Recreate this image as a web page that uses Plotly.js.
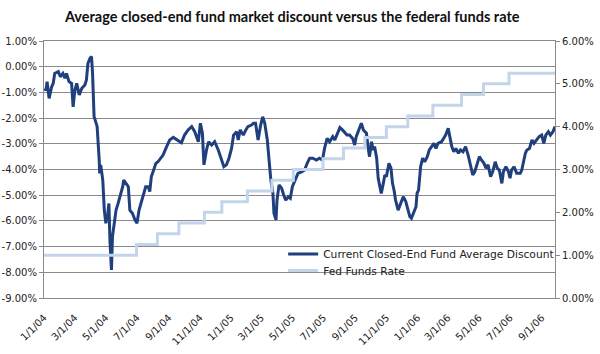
<!DOCTYPE html>
<html>
<head>
<meta charset="utf-8">
<script src="https://cdn.plot.ly/plotly-3.0.1.min.js"></script>
<style>html,body{margin:0;padding:0;background:#fff;}#chart{width:600px;height:354px;}</style>
</head>
<body>
<div id="chart"></div>
<script>
// Current closed-end fund average discount (%)
const discDates = [
 '2004-01-02','2004-01-05','2004-01-07','2004-01-11','2004-01-16','2004-01-19','2004-01-22','2004-01-29','2004-02-02','2004-02-07',
 '2004-02-11','2004-02-14','2004-02-19','2004-02-24','2004-02-27','2004-03-01','2004-03-05','2004-03-10','2004-03-15','2004-03-21',
 '2004-03-24','2004-03-27','2004-03-31','2004-04-03','2004-04-05','2004-04-08','2004-04-10','2004-04-14','2004-04-18','2004-04-19',
 '2004-04-21','2004-04-25','2004-04-28','2004-05-01','2004-05-05','2004-05-07','2004-05-09','2004-05-12','2004-05-14','2004-05-17',
 '2004-05-21','2004-05-25','2004-05-30','2004-06-03','2004-06-05','2004-06-09','2004-06-14','2004-06-17','2004-06-22','2004-06-27',
 '2004-07-01','2004-07-05','2004-07-10','2004-07-14','2004-07-18','2004-07-23','2004-07-26','2004-07-29','2004-08-01','2004-08-07',
 '2004-08-11','2004-08-15','2004-08-21','2004-08-28','2004-09-03','2004-09-10','2004-09-19','2004-09-26','2004-10-02','2004-10-09',
 '2004-10-16','2004-10-22','2004-10-29','2004-11-02','2004-11-06','2004-11-09','2004-11-14','2004-11-18','2004-11-24','2004-11-30',
 '2004-12-07','2004-12-13','2004-12-18','2004-12-23','2004-12-28','2005-01-02','2005-01-06','2005-01-12','2005-01-15','2005-01-19',
 '2005-01-25','2005-01-30','2005-02-03','2005-02-10','2005-02-14','2005-02-18','2005-02-23','2005-02-28','2005-03-04','2005-03-08',
 '2005-03-13','2005-03-17','2005-03-20','2005-03-24','2005-03-26','2005-03-30','2005-04-01','2005-04-05','2005-04-10','2005-04-14',
 '2005-04-18','2005-04-23','2005-04-27','2005-05-01','2005-05-06','2005-05-12','2005-05-19','2005-05-25','2005-05-30','2005-06-04',
 '2005-06-10','2005-06-17','2005-06-23','2005-06-29','2005-07-03','2005-07-08','2005-07-13','2005-07-19','2005-07-23','2005-07-28',
 '2005-08-02','2005-08-07','2005-08-12','2005-08-16','2005-08-21','2005-08-27','2005-08-31','2005-09-03','2005-09-08','2005-09-13',
 '2005-09-17','2005-09-23','2005-09-26','2005-09-29','2005-10-03','2005-10-06','2005-10-09','2005-10-13','2005-10-16','2005-10-19',
 '2005-10-22','2005-10-26','2005-10-29','2005-11-01','2005-11-06','2005-11-10','2005-11-13','2005-11-16','2005-11-19','2005-11-24',
 '2005-11-29','2005-12-04','2005-12-09','2005-12-13','2005-12-17','2005-12-20','2005-12-23','2005-12-29','2005-12-31','2006-01-03',
 '2006-01-07','2006-01-11','2006-01-15','2006-01-20','2006-01-24','2006-01-28','2006-02-02','2006-02-06','2006-02-10','2006-02-17',
 '2006-02-21','2006-02-25','2006-03-02','2006-03-05','2006-03-09','2006-03-13','2006-03-17','2006-03-22','2006-03-26','2006-03-31',
 '2006-04-05','2006-04-10','2006-04-15','2006-04-19','2006-04-23','2006-04-28','2006-05-02','2006-05-06','2006-05-11','2006-05-15',
 '2006-05-19','2006-05-24','2006-05-28','2006-06-02','2006-06-06','2006-06-10','2006-06-15','2006-06-18','2006-06-23','2006-06-28',
 '2006-07-01','2006-07-04','2006-07-09','2006-07-14','2006-07-21','2006-07-24','2006-07-27','2006-07-31','2006-08-03','2006-08-08',
 '2006-08-13','2006-08-17','2006-08-22','2006-08-27','2006-09-01','2006-09-05','2006-09-09','2006-09-14','2006-09-18','2006-09-23',
 '2006-09-27'
];
const discValues = [
 -0.85,-0.91,-0.58,-1.23,-0.78,-0.65,-0.26,-0.19,-0.39,-0.26,
 -0.45,-0.26,-0.58,-0.65,-1.56,-0.97,-0.65,-1.10,-0.84,-0.71,
 -0.52,0.13,0.33,0.39,-0.26,-1.95,-2.07,-2.33,-3.63,-4.15,
 -3.82,-4.41,-5.58,-6.09,-5.70,-5.32,-6.74,-7.91,-6.61,-6.23,
 -5.58,-5.32,-4.99,-4.67,-4.41,-4.54,-4.67,-5.58,-5.70,-5.96,
 -6.09,-5.58,-5.19,-4.93,-4.67,-4.67,-4.86,-4.28,-4.09,-3.76,
 -3.70,-3.60,-3.44,-3.11,-2.85,-2.75,-2.85,-2.96,-2.66,-2.46,
 -2.33,-2.53,-2.92,-2.20,-2.59,-3.82,-3.24,-2.92,-3.05,-2.92,
 -3.24,-3.56,-3.89,-3.82,-3.56,-3.18,-2.66,-2.53,-2.85,-2.46,
 -2.66,-2.46,-2.33,-2.27,-2.20,-2.20,-2.85,-2.27,-1.95,-2.20,
 -2.85,-3.76,-4.41,-4.93,-5.70,-5.96,-5.19,-4.60,-4.73,-4.99,
 -5.19,-5.06,-5.12,-4.67,-4.41,-4.15,-4.09,-4.02,-3.76,-3.56,
 -3.56,-3.63,-3.56,-3.63,-3.18,-2.79,-2.92,-2.72,-2.85,-2.59,
 -2.37,-2.46,-2.59,-2.66,-2.66,-2.79,-3.05,-2.72,-2.46,-2.20,
 -2.46,-2.59,-3.11,-3.50,-2.92,-3.24,-3.11,-3.56,-4.34,-4.67,
 -4.93,-4.54,-4.21,-4.28,-3.76,-3.95,-4.54,-4.80,-5.19,-5.58,
 -5.32,-5.06,-5.25,-5.51,-5.84,-5.90,-5.77,-5.45,-4.93,-4.80,
 -3.89,-3.56,-3.70,-3.50,-3.24,-3.11,-2.98,-3.18,-2.98,-2.92,
 -2.79,-2.66,-2.40,-2.66,-3.11,-3.31,-3.18,-3.37,-3.24,-3.31,
 -3.11,-3.44,-3.82,-4.21,-4.09,-3.76,-3.50,-3.63,-3.76,-3.95,
 -3.82,-4.28,-4.09,-3.70,-3.95,-4.02,-4.54,-4.09,-3.89,-4.09,
 -4.34,-4.02,-3.89,-4.15,-4.15,-4.02,-3.70,-3.37,-3.24,-3.18,
 -2.85,-2.98,-2.85,-2.72,-2.66,-2.98,-2.66,-2.53,-2.66,-2.53,
 -2.33
];
// Fed funds target rate (%)
const fedDates = ['2004-01-01','2004-06-30','2004-08-10','2004-09-21','2004-11-10','2004-12-14','2005-02-02','2005-03-22','2005-05-03','2005-06-30','2005-08-09','2005-09-20','2005-11-01','2005-12-13','2006-01-31','2006-03-28','2006-05-10','2006-06-29','2006-09-27'];
const fedValues = [1.00,1.25,1.50,1.75,2.00,2.25,2.50,2.75,3.00,3.25,3.50,3.75,4.00,4.25,4.50,4.75,5.00,5.25,5.25];

const xTickDates = ['2004-01-01','2004-03-01','2004-05-01','2004-07-01','2004-09-01','2004-11-01','2005-01-01','2005-03-01','2005-05-01','2005-07-01','2005-09-01','2005-11-01','2006-01-01','2006-03-01','2006-05-01','2006-07-01','2006-09-01'];
const xTickLabels = ['1/1/04','3/1/04','5/1/04','7/1/04','9/1/04','11/1/04','1/1/05','3/1/05','5/1/05','7/1/05','9/1/05','11/1/05','1/1/06','3/1/06','5/1/06','7/1/06','9/1/06'];
const leftTickVals = [1,0,-1,-2,-3,-4,-5,-6,-7,-8,-9];
const leftTickLabels = ['1.00%','0.00%','-1.00%','-2.00%','-3.00%','-4.00%','-5.00%','-6.00%','-7.00%','-8.00%','-9.00%'];
const rightTickVals = [0,1,2,3,4,5,6];
const rightTickLabels = ['0.00%','1.00%','2.00%','3.00%','4.00%','5.00%','6.00%'];

const seriesNames = ['Current Closed-End Fund Average Discount','Fed Funds Rate'];
const xRange = ['2004-01-01','2006-09-27'];
const gridCol = '#8a8a8a';
const tickFont = {family:'DejaVu Sans', size:10, color:'#222'};
const legendFont = {family:'DejaVu Sans', size:10.7, color:'#222'};

const traces = [
  {x: discDates, y: discValues, name: seriesNames[0], type:'scatter', mode:'lines',
   line:{color:'#1f3f7d', width:3}, xaxis:'x', yaxis:'y', legend:'legend'},
  {x: fedDates, y: fedValues, name: seriesNames[1], type:'scatter', mode:'lines',
   line:{color:'#c3d5ea', width:3, shape:'hv'}, xaxis:'x', yaxis:'y2', legend:'legend2'}
];

const layout = {
  width:600, height:354,
  margin:{l:44, r:45, t:41, b:56, pad:0},
  paper_bgcolor:'#fff', plot_bgcolor:'#fff',
  showlegend:true,
  title:{text:'Average closed-end fund market discount versus the federal funds rate',
    font:{family:'Lato', size:14.5, weight:'bold', color:'#111'},
    x:0.487, xanchor:'center', xref:'container', y:0.952, yanchor:'middle', yref:'container'},
  xaxis:{type:'date', range:xRange, tickvals:xTickDates, ticktext:xTickLabels, tickangle:-45,
    showgrid:false, zeroline:false, showline:true, linecolor:gridCol, linewidth:1, mirror:true,
    ticks:'outside', ticklen:9, tickcolor:'rgba(0,0,0,0)', tickfont:tickFont},
  xaxis2:{type:'date', range:xRange, overlaying:'x', anchor:'free', position:0.9, side:'bottom',
    tickvals:xTickDates, showticklabels:false, showgrid:false, zeroline:false,
    showline:true, linecolor:gridCol, linewidth:1, ticks:'outside', ticklen:4, tickcolor:gridCol},
  yaxis:{range:[-9,1], tickvals:leftTickVals, ticktext:leftTickLabels, showgrid:true, gridcolor:gridCol, gridwidth:1,
    zeroline:false, showline:true, linecolor:gridCol, ticks:'outside', ticklen:4, tickcolor:gridCol, tickfont:tickFont},
  yaxis2:{range:[0,6], tickvals:rightTickVals, ticktext:rightTickLabels, overlaying:'y', side:'right', anchor:'x',
    showgrid:false, zeroline:false, showline:true, linecolor:gridCol, ticks:'outside', ticklen:4, tickcolor:gridCol, tickfont:tickFont},
  legend:{x:0.468, xanchor:'left', y:0.228, yanchor:'top', bgcolor:'rgba(0,0,0,0)', borderwidth:0,
    font:legendFont, itemwidth:30},
  legend2:{x:0.468, xanchor:'left', y:0.163, yanchor:'top', bgcolor:'rgba(0,0,0,0)', borderwidth:0,
    font:legendFont, itemwidth:30}
};

Plotly.newPlot('chart', traces, layout, {displayModeBar:false, staticPlot:true});
</script>
</body>
</html>
